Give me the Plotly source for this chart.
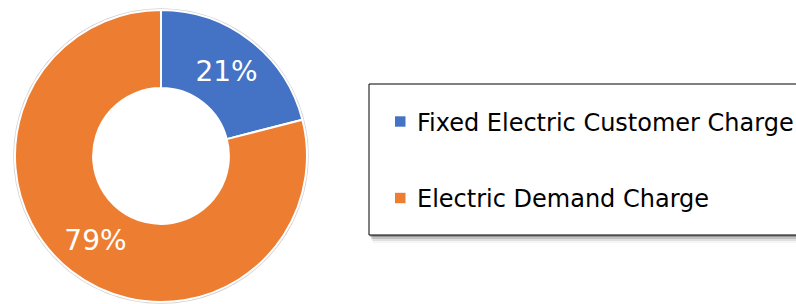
import plotly.graph_objects as go

labels = ["Fixed Electric Customer Charge", "Electric Demand Charge"]
values = [21, 79]
colors = ["#4472C4", "#ED7D31"]

W, H = 796, 304


def px(x):
    return x / W


def py(y):
    return 1 - y / H


fig = go.Figure(
    go.Pie(
        labels=labels,
        values=values,
        hole=0.465,
        sort=False,
        direction="clockwise",
        rotation=0,
        marker=dict(colors=colors, line=dict(color="white", width=2)),
        textinfo="percent",
        texttemplate="%{percent:.0%}",
        textposition="inside",
        insidetextorientation="horizontal",
        textfont=dict(color="white", size=28, family="DejaVu Sans"),
        domain=dict(x=[px(15), px(307)], y=[py(302), py(10)]),
        showlegend=False,
    )
)

shapes = []
# soft shadow edge around the ring
shapes.append(dict(type="circle", xref="paper", yref="paper",
                   x0=px(14), x1=px(308), y0=py(303), y1=py(9),
                   fillcolor="rgba(0,0,0,0)", line=dict(color="rgba(0,0,0,0.18)", width=1.5),
                   layer="below"))
# legend box shadow
for dx, dy, op in [(1, 2, 0.22), (2, 4, 0.14), (3, 6, 0.08), (4, 8, 0.04)]:
    shapes.append(dict(type="rect", xref="paper", yref="paper",
                       x0=px(369 + dx), x1=px(800 + dx), y0=py(235 + dy), y1=py(84 + dy),
                       fillcolor=f"rgba(0,0,0,{op})", line=dict(width=0), layer="below"))
shapes.append(dict(type="rect", xref="paper", yref="paper",
                   x0=px(369), x1=px(800), y0=py(235), y1=py(84),
                   fillcolor="white", line=dict(color="black", width=1), layer="below"))

annotations = []
row_y = [121.5, 198]
for lab, col, yc in zip(labels, colors, row_y):
    shapes.append(dict(type="rect", xref="paper", yref="paper",
                       x0=px(395), x1=px(405.5), y0=py(yc + 5.2), y1=py(yc - 5.2),
                       fillcolor=col, line=dict(width=0)))
    annotations.append(dict(text=lab, xref="paper", yref="paper", x=px(415), y=py(yc + 1),
                            xanchor="left", yanchor="middle", showarrow=False,
                            font=dict(family="DejaVu Sans", size=24, color="black")))

fig.update_layout(
    width=W, height=H,
    margin=dict(l=0, r=0, t=0, b=0),
    paper_bgcolor="white",
    plot_bgcolor="white",
    shapes=shapes,
    annotations=annotations,
)

fig.write_html("out.html",
               config={"displayModeBar": False},
               post_script="document.body.style.margin='0';document.body.style.overflow='hidden';")
